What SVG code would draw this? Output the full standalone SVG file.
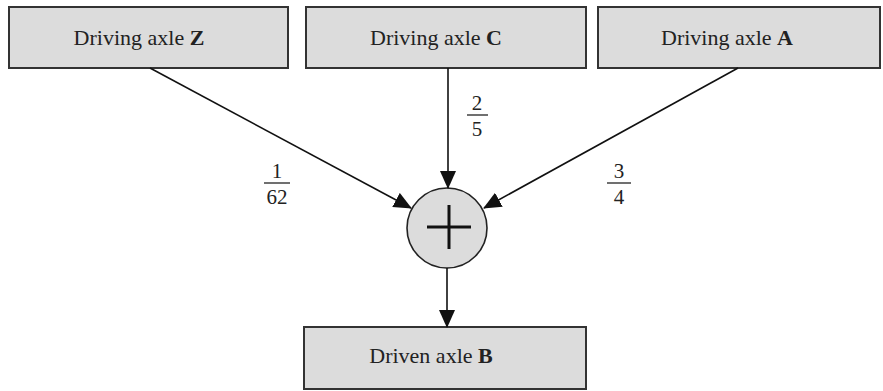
<svg xmlns="http://www.w3.org/2000/svg" width="883" height="391" viewBox="0 0 883 391">
<style>
.box{fill:#dcdcdc;stroke:#333;stroke-width:2}
.t{font-family:"Liberation Serif",serif;font-size:22px;fill:#222;text-anchor:middle}
.n{font-size:21px}
.b{font-weight:bold}
.ln{stroke:#111;stroke-width:1.6;fill:none}
.fr{stroke:#222;stroke-width:1.3}
</style>
<defs>
<marker id="ah" markerWidth="18" markerHeight="16" refX="17" refY="8" orient="auto" markerUnits="userSpaceOnUse">
<path d="M0,0 L18,8 L0,16 Z" fill="#111"/>
</marker>
</defs>
<g id="axleZ"><rect class="box" x="9" y="7" width="279" height="61"/><text class="t" x="139" y="45">Driving axle <tspan class="b">Z</tspan></text></g>
<g id="axleC"><rect class="box" x="306" y="7" width="280" height="61"/><text class="t" x="436" y="45">Driving axle <tspan class="b">C</tspan></text></g>
<g id="axleA"><rect class="box" x="598" y="7" width="282" height="61"/><text class="t" x="727" y="45">Driving axle <tspan class="b">A</tspan></text></g>
<g id="sum"><circle cx="447" cy="228" r="40" fill="#dcdcdc" stroke="#222" stroke-width="1.6"/><path d="M427,227 H471 M449,205 V249" stroke="#111" stroke-width="3"/></g>
<g id="axleB"><rect class="box" x="304" y="327" width="282" height="62"/><text class="t" x="431" y="363">Driven axle <tspan class="b">B</tspan></text></g>
<g id="connectors">
<line class="ln" x1="448" y1="68" x2="448" y2="188" marker-end="url(#ah)"/>
<line class="ln" x1="150" y1="68" x2="411" y2="208" marker-end="url(#ah)"/>
<line class="ln" x1="738" y1="68" x2="484" y2="208" marker-end="url(#ah)"/>
<line class="ln" x1="447" y1="268" x2="447" y2="327" marker-end="url(#ah)"/>
</g>
<g id="labels">
<text class="t n" x="477" y="110">2</text><line class="fr" x1="467" y1="115" x2="488" y2="115"/><text class="t n" x="477" y="136">5</text>
<text class="t n" x="277" y="178">1</text><line class="fr" x1="264" y1="183" x2="290" y2="183"/><text class="t n" x="277" y="204">62</text>
<text class="t n" x="619" y="178">3</text><line class="fr" x1="607" y1="183" x2="631" y2="183"/><text class="t n" x="619" y="204">4</text>
</g>
</svg>
